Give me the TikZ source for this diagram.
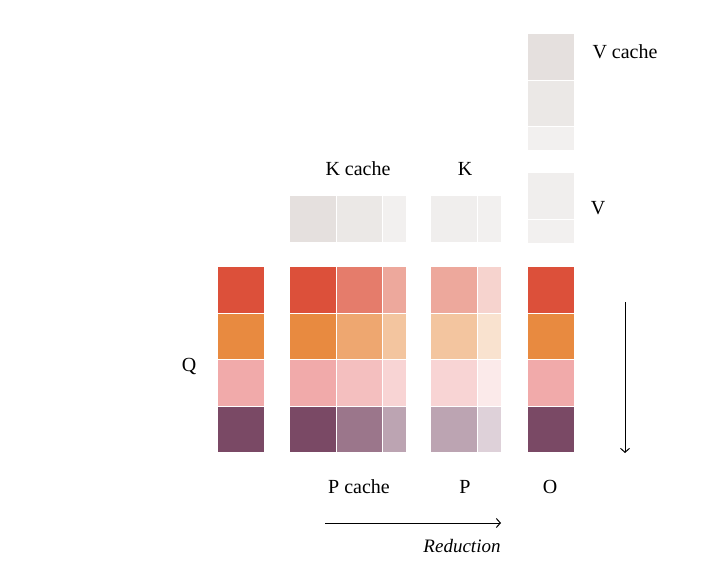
\documentclass[tikz,border=0pt]{standalone}
\usepackage{tikz}
\usepackage{fontspec}
\setmainfont{Liberation Serif}
\usetikzlibrary{arrows.meta}
\definecolor{cRed}{RGB}{220,80,58}
\definecolor{cOrg}{RGB}{232,138,64}
\definecolor{cPnk}{RGB}{241,170,170}
\definecolor{cPur}{RGB}{122,73,101}
\definecolor{gA}{RGB}{229,224,222}
\definecolor{gB}{RGB}{235,232,230}
\definecolor{gC}{RGB}{242,240,239}
\definecolor{gK}{RGB}{240,238,237}

\begin{document}
\begin{tikzpicture}[x=1pt,y=-1pt,>={Straight Barb[length=4pt,width=9pt]},
  cell/.style={draw=white,line width=1pt,minimum width=46.5pt,minimum height=46.5pt,inner sep=0pt},
  halfcol/.style={cell,minimum width=23.5pt},
  halfrow/.style={cell,minimum height=23.5pt},
  lbl/.style={font=\fontsize{20}{22}\selectfont,inner sep=0pt}]
\useasboundingbox (0,0) rectangle (720,583);
% Q, P cache, P and O rows
\foreach \c [count=\i] in {cRed,cOrg,cPnk,cPur}{
  \pgfmathsetmacro\yy{290+46.5*(\i-1)}
  \node[cell,fill=\c] (q\i) at (241,\yy) {};
  \node[cell,fill=\c] (pc\i a) at (313,\yy) {};
  \node[cell,fill=\c!75!white] (pc\i b) at (359.5,\yy) {};
  \node[halfcol,fill=\c!50!white] (pc\i c) at (394.5,\yy) {};
  \node[cell,fill=\c!50!white] (p\i a) at (454,\yy) {};
  \node[halfcol,fill=\c!25!white] (p\i b) at (489.5,\yy) {};
  \node[cell,fill=\c] (o\i) at (551,\yy) {};
}
% K cache and K
\node[cell,fill=gA] (kca) at (313,219) {};
\node[cell,fill=gB] (kcb) at (359.5,219) {};
\node[halfcol,fill=gC] (kcc) at (394.5,219) {};
\node[cell,fill=gK] (ka) at (454,219) {};
\node[halfcol,fill=gC] (kb) at (489.5,219) {};
% V cache and V
\node[cell,fill=gA] (vca) at (551,57) {};
\node[cell,fill=gB] (vcb) at (551,103.5) {};
\node[halfrow,fill=gC] (vcc) at (551,138.5) {};
\node[cell,fill=gK] (va) at (551,196) {};
\node[halfrow,fill=gC] (vb) at (551,231.5) {};
% labels
\node[lbl] (lkc) at (358,169) {K cache};
\node[lbl] (lk) at (465,169) {K};
\node[lbl] (lvc) at (625,52) {V cache};
\node[lbl] (lv) at (598,208) {V};
\node[lbl] (lq) at (189,366) {Q};
\node[lbl] (lpc) at (359,487) {P cache};
\node[lbl] (lp) at (465,487) {P};
\node[lbl] (lo) at (550,487) {O};
\node[lbl,font=\fontsize{19}{21}\selectfont\itshape] (lred) at (462,546) {Reduction};
% arrows
\coordinate (rs) at (325,523);
\coordinate (re) at (501,523);
\coordinate (ds) at (625,302);
\coordinate (de) at (625,453);
\draw[->,line width=1pt] (rs) -- (re);
\draw[->,line width=1pt] (ds) -- (de);
\end{tikzpicture}
\end{document}
